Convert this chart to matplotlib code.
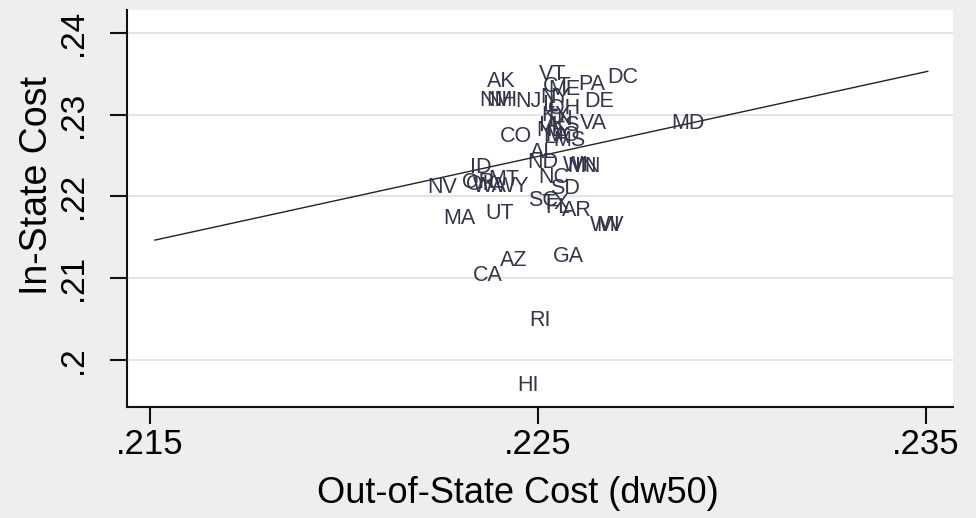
import matplotlib
matplotlib.use("Agg")
import matplotlib.pyplot as plt

# ---------------------------------------------------------------------------
# Data
# ---------------------------------------------------------------------------

states = [
    "AK", "VT", "PA", "DC", "NM", "NH", "NJ", "DE", "VA", "MD",
    "CO", "MO", "AL", "ND", "WI", "MN", "IN", "ID", "NV", "OR",
    "OK", "MT", "WA", "WY", "NC", "SD", "SC", "TX", "FL", "AR",
    "WV", "MI", "MA", "UT", "CA", "AZ", "GA", "RI", "HI",
    "CT", "ME", "NY", "IL", "OH", "KY", "TN", "IA", "KS", "NE",
    "LA", "MS",
]
out_cost = [
    .22369, .22503, .22603, .22678, .22350, .22366, .22441, .22619, .22608, .22845,
    .22402, .22518, .22479, .22472, .22564, .22577, .22595, .22325, .22216, .22304,
    .22314, .22371, .22332, .22389, .22500, .22531, .22474, .22510, .22518, .22562,
    .22634, .22650, .22255, .22366, .22332, .22402, .22539, .22479, .22446,
    .22513, .22526, .22505, .22513, .22526, .22508, .22518, .22503, .22534, .22495,
    .22513, .22539,
]
in_cost = [
    .23400, .23486, .23364, .23449, .23168, .23168, .23155, .23155, .22898, .22898,
    .22727, .22740, .22543, .22421, .22384, .22372, .22360, .22348, .22115, .22176,
    .22150, .22201, .22127, .22127, .22237, .22103, .21956, .21919, .21870, .21833,
    .21650, .21640, .21736, .21797, .21038, .21222, .21270, .20487, .19692,
    .23340, .23310, .23210, .23120, .23070, .22990, .22940, .22870, .22870, .22810,
    .22720, .22680,
]

# linear fit shown in the reference
fit_x = [.21513, .23505]
fit_y = [.21466, .23530]

xticks = [.215, .225, .235]
xtick_labels = [".215", ".225", ".235"]
yticks = [.20, .21, .22, .23, .24]
ytick_labels = [".2", ".21", ".22", ".23", ".24"]

BG = "#eeeeee"
C_LABEL = "#33364a"

plt.rcParams["font.family"] = ["Liberation Sans", "DejaVu Sans"]

fig = plt.figure(figsize=(9.76, 5.18), dpi=100, facecolor=BG)
ax = fig.add_axes([0.1301, 0.2143, 0.8463, 0.7664])
ax.set_facecolor("white")

for s, x, y in zip(states, out_cost, in_cost):
    ax.text(x, y, s, ha="left", va="center", fontsize=15.5, color=C_LABEL)

ax.plot(fit_x, fit_y, color="#222222", linewidth=1.0)

ax.set_xlim(.21441, .2357)
ax.set_ylim(.19425, .2428)

ax.set_xticks(xticks)
ax.set_xticklabels(xtick_labels, fontsize=25)
ax.set_yticks(yticks)
ax.set_yticklabels(ytick_labels, fontsize=24, rotation=90, va="center")

ax.tick_params(axis="both", direction="out", length=12, width=1.5, color="#111111")
ax.tick_params(axis="x", pad=3)
ax.tick_params(axis="y", pad=15)

ax.grid(axis="y", color="#e2e2e2", linewidth=1.3)
ax.set_axisbelow(True)

for side in ("top", "right"):
    ax.spines[side].set_visible(False)
for side in ("left", "bottom"):
    ax.spines[side].set_linewidth(1.5)
    ax.spines[side].set_color("#111111")

ax.set_xlabel("Out-of-State Cost (dw50)", fontsize=26)
ax.set_ylabel("In-State Cost", fontsize=27)
ax.xaxis.set_label_coords(0.473, -0.175)
ax.yaxis.set_label_coords(-0.087, 0.559)

fig.savefig("out.png", dpi=100, facecolor=BG)
